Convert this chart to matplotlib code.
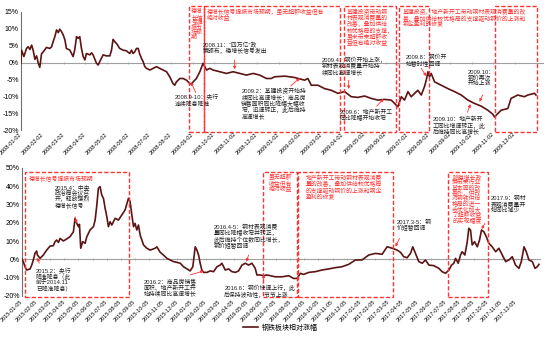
import matplotlib
matplotlib.use("Agg")
import matplotlib.pyplot as plt
from matplotlib.patches import Rectangle
from matplotlib.ticker import FuncFormatter

plt.rcParams["font.family"] = ["Liberation Sans", "Noto Sans CJK SC"]
plt.rcParams["axes.unicode_minus"] = False

LINE_COLOR = "#5C1414"
RED = "#FF3333"
NOTE_COLOR = "#222222"

# ---- data: top panel (2008-2009), x in months from 2008-01-02 ----
top_ticklabels = [f"{y}-{m:02d}-02" for y in (2008, 2009) for m in range(1, 13)]
top_month = [
    0.00, 0.03, 0.14, 0.26, 0.34, 0.42, 0.50, 0.57, 0.65, 0.73,
    0.81, 0.88, 0.96, 1.04, 1.19, 1.35, 1.43, 1.50, 1.58, 1.66,
    1.74, 1.81, 1.89, 1.97, 2.05, 2.12, 2.28, 2.36, 2.43, 2.51,
    2.59, 2.67, 2.74, 2.82, 2.90, 2.98, 3.05, 3.21, 3.29, 3.36,
    3.52, 3.60, 3.67, 3.75, 3.83, 3.98, 4.14, 4.22, 4.29, 4.37,
    4.45, 4.60, 4.76, 4.91, 5.07, 5.15, 5.22, 5.30, 5.38, 5.46,
    5.53, 5.61, 5.69, 5.77, 5.85, 6.00, 6.15, 6.31, 6.47, 6.62,
    6.78, 6.93, 7.08, 7.16, 7.24, 7.40, 7.55, 7.71, 7.86, 7.94,
    8.02, 8.17, 8.33, 8.48, 8.56, 8.64, 8.79, 8.95, 9.26, 9.57,
    9.88, 10.19, 10.50, 10.81, 11.12, 11.43, 11.66,
    11.81, 12.28, 12.74, 13.21, 13.36, 13.52, 13.83, 14.14, 14.45, 14.76,
    15.07, 15.38, 15.69, 16.00, 16.31, 16.62, 16.93, 17.24, 17.40, 17.55,
    17.71, 17.86, 18.02, 18.17, 18.33, 18.48, 18.64, 18.79, 18.87, 18.95,
    19.02, 19.10, 19.26, 19.57, 19.88, 20.19, 20.50, 20.81, 21.12, 21.43,
    21.74, 21.97, 22.05, 22.20, 22.36, 22.67, 22.82, 22.98, 23.13, 23.44,
    23.60, 23.91, 23.98,
]
top_value = [
    -0.2, 3.7, 1.8, 4.2, 4.7, 3.9, 5.2, 3.7, 1.0, 2.0,
    -0.2, -1.4, 2.6, 3.2, 4.5, 4.2, 4.7, 6.2, 7.7, 9.7,
    8.9, 9.9, 9.2, 8.2, 6.7, 4.2, 3.7, 2.7, 1.8, 3.9,
    7.7, 7.2, 7.7, 4.2, 1.8, 0.8, 2.7, 2.3, 2.9, 2.3,
    -0.2, -0.7, 0.3, 1.3, 2.3, 2.0, 2.0, 3.7, 6.9, 6.2,
    5.7, 4.2, 3.7, 3.5, 2.7, 3.7, 2.7, 3.2, 4.2, 4.2,
    2.6, 1.3, 0.3, -1.2, -1.7, -2.2, -1.7, -1.2, -1.7, -2.2,
    -2.7, -4.2, -6.2, -6.7, -5.7, -4.7, -4.7, -5.2, -6.2, -6.4,
    -5.7, -4.7, -2.7, -0.2, -1.2, -2.2, -1.7, -2.2, -2.7, -3.2,
    -2.7, -3.2, -3.7, -3.2, -3.7, -4.7, -4.7,
    -4.2, -4.0, -4.4, -5.2, -4.7, -6.7, -6.7, -7.7, -8.2, -9.1,
    -8.6, -10.1, -10.3, -9.9, -10.6, -11.1, -10.9, -11.1, -12.1, -13.1,
    -10.1, -11.1, -8.6, -10.1, -9.1, -8.2, -9.6, -7.1, -5.2, -2.7,
    -4.2, -3.2, -5.7, -6.7, -7.7, -8.6, -9.6, -11.1, -12.1, -12.9,
    -14.1, -15.3, -16.1, -15.1, -14.1, -13.6, -10.6, -10.1, -9.6, -10.1,
    -9.6, -9.1, -9.6,
]

# ---- data: bottom panel (2015-2017), x in months from 2015-01-05 ----
bot_ticklabels = [f"{y}-{m:02d}-05" for y in (2015, 2016, 2017) for m in range(1, 13)]
bot_month = [
    0.00, 0.09, 0.21, 0.33, 0.57, 0.69, 0.80, 0.92, 1.04, 1.09,
    1.28, 1.51, 1.75, 1.99, 2.22, 2.34, 2.46, 2.58, 2.70, 2.93,
    3.17, 3.40, 3.64, 3.76, 3.88, 4.00, 4.07, 4.16, 4.30, 4.47,
    4.59, 4.82, 5.06, 5.18, 5.30, 5.41, 5.53, 5.65, 5.77, 5.89,
    6.01, 6.12, 6.24, 6.36, 6.60, 6.83, 7.07, 7.30, 7.54, 7.66,
    7.78, 7.90, 8.01, 8.13, 8.25, 8.37, 8.49, 8.61, 8.84, 9.08,
    9.43, 9.55, 9.79, 10.02, 10.26, 10.50, 10.73, 10.97, 11.21, 11.44,
    11.68, 11.91, 12.10, 12.27, 12.39, 12.51, 12.62, 12.74, 12.86, 13.10,
    13.33, 13.57, 13.81, 14.04, 14.16, 14.28, 14.40, 14.63, 14.87, 15.11,
    15.34, 15.58, 15.82, 16.05, 16.29, 16.52, 16.64, 16.88, 17.12, 17.35,
    17.59,
    17.94, 18.42, 18.89, 19.24, 19.48, 19.72, 19.95, 20.31, 20.78, 21.25,
    21.73, 22.20, 22.67, 23.14, 23.62, 24.09, 24.56, 25.04, 25.51, 25.86,
    26.10, 26.34, 26.57, 26.81, 27.04, 27.28, 27.52, 27.68, 27.87, 28.11,
    28.35, 28.58, 28.82, 29.17, 29.53, 29.76, 30.00, 30.24, 30.43, 30.59,
    30.71, 30.90, 31.06, 31.18, 31.37, 31.54, 31.65, 31.77, 31.89, 32.06,
    32.25, 32.41, 32.55, 32.72, 32.89, 33.07, 33.31, 33.55, 33.78, 34.02,
    34.26, 34.49, 34.73, 34.96, 35.20, 35.37, 35.56, 35.72, 35.91, 36.15,
    36.34, 36.50, 36.62,
]
bot_value = [
    0.0, -1.2, -4.0, -5.8, -5.2, -3.1, -0.3, 3.3, 4.6, 2.4,
    0.6, 2.4, 5.1, 7.3, 7.5, 9.7, 10.6, 9.3, 11.5, 10.1,
    11.2, 12.4, 15.1, 22.5, 19.7, 17.9, 19.2, 6.1, 9.7, 8.8,
    12.4, 16.1, 17.9, 21.5, 29.7, 38.9, 39.8, 35.2, 33.4, 27.9,
    23.3, 17.9, 20.6, 18.8, 22.5, 21.5, 24.3, 27.0, 33.4, 31.5,
    24.3, 17.9, 19.7, 16.1, 18.8, 13.3, 10.6, 7.9, 6.1, 5.1,
    6.1, 6.9, 3.9, 2.4, 0.6, -0.3, -1.2, -1.6, -2.1, -4.0,
    -5.2, -6.3, -4.0, 6.9, 5.1, 2.4, -2.1, -5.8, -7.1, -7.1,
    -6.3, -6.7, -4.0, -3.1, -2.1, -4.0, -5.8, -5.2, -6.7, -7.1,
    -6.3, -3.1, -2.1, -3.1, -2.1, -4.9, -8.5, -8.5, -8.9, -8.5,
    -8.9,
    -9.5, -9.5, -8.9, -10.4, -10.4, -7.6, -8.2, -7.1, -6.7, -5.8,
    -5.2, -4.5, -4.0, -2.7, -0.3, -0.3, 2.4, 3.3, 2.8, 6.9,
    6.4, 5.8, 5.1, 3.9, 1.5, 0.9, 3.3, 6.9, 3.3, -1.2,
    -2.1, -0.3, -3.1, -3.4, -4.9, -6.7, -7.6, -5.8, -3.1, -2.1,
    0.6, -2.1, 2.4, 4.2, 2.4, 9.7, 17.0, 16.1, 7.9, 9.7,
    6.9, 10.6, 16.1, 15.1, 12.4, 8.8, 6.9, 4.2, 6.1, 2.4,
    -1.2, -0.3, 1.5, -3.1, -4.9, -1.2, 6.9, 4.2, -0.3, -1.2,
    -4.9, -4.0, -2.7,
]
series_label = "钢铁板块相对涨幅"


def style_axis(ax, ticklabels, ylim, ystep, label_pad):
    ax.set_ylim(*ylim)
    ax.set_yticks(range(ylim[0], ylim[1] + 1, ystep))
    ax.yaxis.set_major_formatter(FuncFormatter(lambda v, _: f"{v:.0f}%"))
    for s in ("top", "right"):
        ax.spines[s].set_visible(False)
    ax.spines["bottom"].set_position(("data", 0))
    ax.spines["bottom"].set_color("#A0A0A0")
    ax.spines["bottom"].set_linewidth(0.8)
    ax.spines["left"].set_color("#707070")
    ax.spines["left"].set_linewidth(0.8)
    ax.tick_params(axis="x", length=2, direction="inout", color="#A0A0A0",
                   width=0.6, pad=label_pad, labelsize=4)
    ax.tick_params(axis="y", length=0, labelsize=5, pad=1.5)
    ax.set_xticks(range(len(ticklabels)))
    ax.set_xticklabels(ticklabels)
    for lab in ax.get_xticklabels():
        lab.set_rotation(45)
        lab.set_ha("right")
        lab.set_va("center")
        lab.set_rotation_mode("anchor")


def box(ax, x0, x1, y0, y1):
    ax.add_patch(Rectangle((x0, y0), x1 - x0, y1 - y0, fill=False, ec=RED,
                           lw=1.0, ls=(0, (3, 1.5)), clip_on=False, zorder=4))


def red_text(ax, x, y, s, ls=1.0):
    ax.text(x, y, s, color=RED, fontsize=4.2, va="top", ha="left",
            linespacing=ls, zorder=5)


def note(ax, x, y, s, arrow=None, ls=1.0):
    ax.text(x, y, s, color=NOTE_COLOR, fontsize=4.2, va="top", ha="left",
            linespacing=ls, zorder=5)
    if arrow is not None:
        (x0, y0), (x1, y1) = arrow
        ax.annotate("", xy=(x1, y1), xytext=(x0, y0),
                    arrowprops=dict(arrowstyle="-|>", color=RED, lw=0.6,
                                    mutation_scale=4, shrinkA=0, shrinkB=0),
                    zorder=6)


fig = plt.figure(figsize=(5.5, 3.38), dpi=100)
ax1 = fig.add_axes([0.038, 0.615, 0.949, 0.3495])
ax2 = fig.add_axes([0.040, 0.1243, 0.942, 0.3787])

# ---- top panel ----
ax1.plot(top_month, top_value, color=LINE_COLOR, lw=1.2, zorder=3)
ax1.set_xlim(0, 24.3)
style_axis(ax1, top_ticklabels, (-20, 15), 5, 50)

box(ax1, 7.81, 8.51, -20.6, 16.8)
box(ax1, 8.51, 14.84, -20.6, 16.8)
box(ax1, 15.02, 17.44, -20.6, 16.8)
box(ax1, 17.58, 19.02, -20.6, 16.8)
box(ax1, 22.05, 24.05, -20.6, 16.8)
red_text(ax1, 7.93, 15.9, "稳增\n长信\n号提\n振市\n场预\n期")
red_text(ax1, 8.65, 15.9, "稳增长信号提振市场预期，虽无超额收益但有\n绝对收益")
red_text(ax1, 15.16, 15.9, "基建投资带动钢\n材表观消费量的\n改善，叠加供给\n较优格局的支撑，\n虽未带来超额收\n益但有绝对收益")
red_text(ax1, 17.77, 15.9, "基建投资、地产新开工带动钢材表观消费量的改\n善，叠加供给较优格局的支撑驱动钢价的上涨和\n钢企盈利的修复")

note(ax1, 8.47, 6.1, "2008.11：“四万亿”政\n策颁布，稳增长信号发出",
     arrow=((9.95, 0.8), (9.95, -2.0)))
note(ax1, 7.16, -9.3, "2008.9-10：央行\n连续降息降准",
     arrow=((8.14, -8.8), (7.91, -5.8)))
note(ax1, 10.26, -7.5, "2009.2：基建投资开始持\n续同比高速增长；商品房\n销售面积同比降幅大幅收\n窄，迅速转正，此后维持\n高速增长",
     arrow=((12.56, -6.9), (12.98, -4.6)))
note(ax1, 13.99, 1.7, "2009.4：钢价开始上涨，\n钢材表观消费量开始持\n续同比高速增长",
     arrow=((15.26, -5.2), (15.26, -7.8)))
note(ax1, 14.84, -13.8, "2009.6：地产新开工\n同比降幅开始收窄",
     arrow=((16.56, -12.9), (16.88, -10.8)))
note(ax1, 17.91, 2.3, "2009.8：钢价开\n始暂时性回调",
     arrow=((18.64, -1.7), (18.87, -4.0)))
note(ax1, 20.81, -2.2, "2009.10：\n钢价再次\n开始上涨",
     arrow=((21.50, -9.6), (21.35, -11.6)))
note(ax1, 19.18, -15.9, "2009.10：地产新开\n工同比增速转正，此\n后维持同比高增长",
     arrow=((20.79, -14.7), (20.93, -12.3)))

# ---- bottom panel ----
line, = ax2.plot(bot_month, bot_value, color=LINE_COLOR, lw=1.2, zorder=3,
                 label=series_label)
ax2.set_xlim(0, 36.7)
style_axis(ax2, bot_ticklabels, (-20, 50), 10, 29)

box(ax2, 0.21, 7.59, -20.6, 47.8)
box(ax2, 17.09, 19.50, -20.6, 47.8)
box(ax2, 19.57, 26.31, -20.6, 47.8)
box(ax2, 30.21, 32.98, -20.6, 47.8)
red_text(ax2, 0.45, 46.2, "稳增长信号提振市场预期")
red_text(ax2, 17.47, 46.7, "虽无超额\n收益但有\n绝对收益")
red_text(ax2, 20.07, 46.2, "地产新开工带动钢材表观消费\n量的改善，叠加供给较优格局\n的支撑驱动钢价的上涨和钢企\n盈利的修复")
red_text(ax2, 30.47, 46.7, "除稳增长政\n策带来行业\n基本面的改\n善外，供改\n对钢铁供给\n格局的进一\n步优化加大\n了超额收益\n的实现幅度", ls=0.9)

note(ax2, 2.29, 41.2, "2015.4：中央\n政治局会议召\n开，释放强烈\n稳增长信号",
     arrow=((3.76, 23.3), (3.88, 19.7)))
note(ax2, 0.99, -4.7, "2015.2：央行\n降准降息（此\n前于2014.11\n已降准降息）",
     arrow=((1.23, -2.1), (1.09, 0.9)))
note(ax2, 8.65, -10.7, "2016.2：商品房销售\n面积、地产新开工开\n始持续同比高速增长",
     arrow=((11.91, -8.5), (12.86, -6.3)))
note(ax2, 13.57, 19.4, "2016.4-5：钢材表观消费\n量同比降幅收窄并转正，\n此后维持个位数同比增长，\n钢价短暂回调",
     arrow=((16.05, 2.4), (15.89, -1.3)))
note(ax2, 14.33, -14.0, "2016.6：钢价快速上行，此\n后保持波动性，节节上涨",
     arrow=((17.11, -11.2), (17.11, -8.3)))
note(ax2, 26.57, 21.5, "2017.3-5：钢\n价短暂回调",
     arrow=((26.74, 11.5), (26.45, 7.0)))
note(ax2, 33.19, 34.7, "2017.9：钢材\n表观消费量开\n始同比减少",
     arrow=((32.79, 19.7), (32.55, 16.6)))

fig.legend(handles=[line], loc="center", bbox_to_anchor=(0.51, 0.03),
           frameon=False, fontsize=5, handlelength=2.2, handletextpad=0.5)

fig.savefig("out.png", dpi=100)
